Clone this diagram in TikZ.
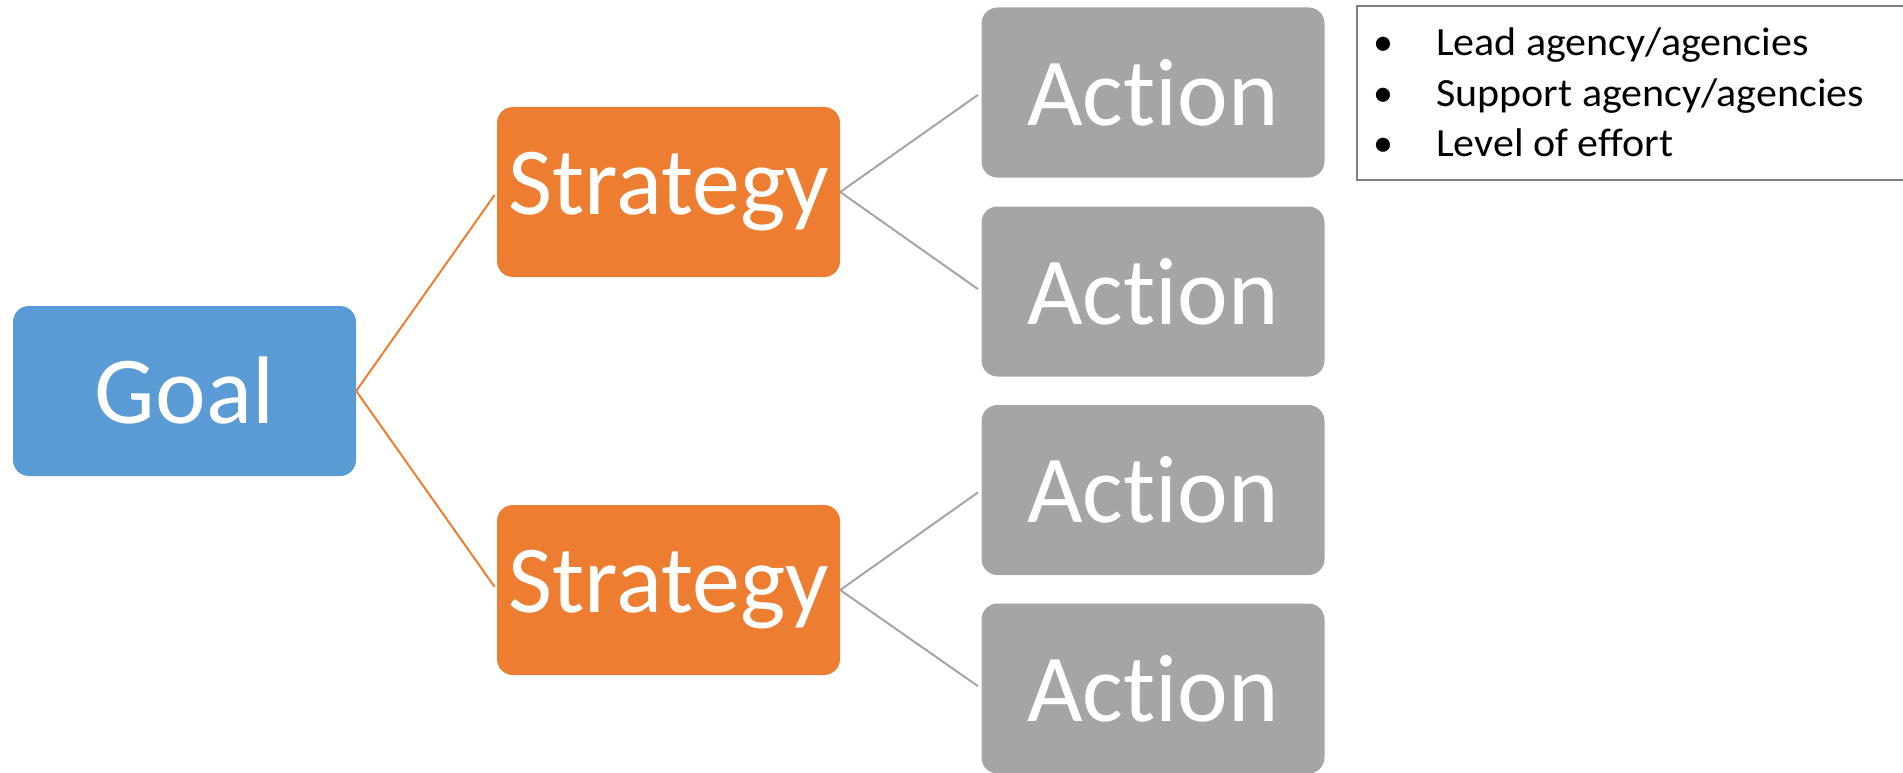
\documentclass[tikz,border=0pt]{standalone}
\usepackage{fontspec}
\setmainfont[Ligatures={NoCommon,NoDiscretionary}]{Carlito}
\definecolor{goalblue}{HTML}{5B9BD5}
\definecolor{stratorange}{HTML}{ED7D31}
\definecolor{actgray}{HTML}{A5A5A5}
\definecolor{boxline}{HTML}{808080}
\begin{document}
\begin{tikzpicture}[x=1pt,y=-1pt,
  card/.style={rounded corners=16pt, minimum width=343pt, minimum height=170pt, inner sep=0pt, text=white, font=\fontsize{96}{110}\selectfont},
  goalbox/.style={card, fill=goalblue},
  stratbox/.style={card, fill=stratorange},
  actbox/.style={card, fill=actgray},
  olink/.style={draw=stratorange, line width=2pt, shorten >=4pt},
  glink/.style={draw=actgray, line width=2pt, shorten >=4pt},
  notebox/.style={draw=boxline, line width=2pt},
  noteline/.style={anchor=base west, inner sep=0pt, font=\fontsize{40}{48}\selectfont},
  notebullet/.style={anchor=base, inner sep=0pt, font=\fontsize{40}{48}\selectfont}
]
\useasboundingbox (0,0) rectangle (1903,773);
\node[goalbox] (goal) at (184.5,391) {Goal};
\node[stratbox] (s1) at (668.5,192) {Strategy};
\node[stratbox] (s2) at (668.5,590) {Strategy};
\node[actbox] (a1) at (1153,92.5) {Action};
\node[actbox] (a2) at (1153,291.5) {Action};
\node[actbox] (a3) at (1153,490) {Action};
\node[actbox] (a4) at (1153,688.5) {Action};
\draw[olink] (goal.east) -- (s1.west);
\draw[olink] (goal.east) -- (s2.west);
\draw[glink] (s1.east) -- (a1.west);
\draw[glink] (s1.east) -- (a2.west);
\draw[glink] (s2.east) -- (a3.west);
\draw[glink] (s2.east) -- (a4.west);
\begin{scope}
\clip (0,0) rectangle (1903,773);
\draw[notebox] (1357,6) rectangle (1910,180);
\end{scope}
\node[notebullet] (b1) at (1383,56) {•};
\node[notebullet] (b2) at (1383,106.5) {•};
\node[notebullet] (b3) at (1383,157) {•};
\node[noteline] (n1) at (1436,56) {\scalebox{1.05}[1]{Lead agency/agencies}};
\node[noteline] (n2) at (1436,106.5) {\scalebox{1.05}[1]{Support agency/agencies}};
\node[noteline] (n3) at (1436,157) {\scalebox{1.05}[1]{Level of effort}};
\end{tikzpicture}
\end{document}
